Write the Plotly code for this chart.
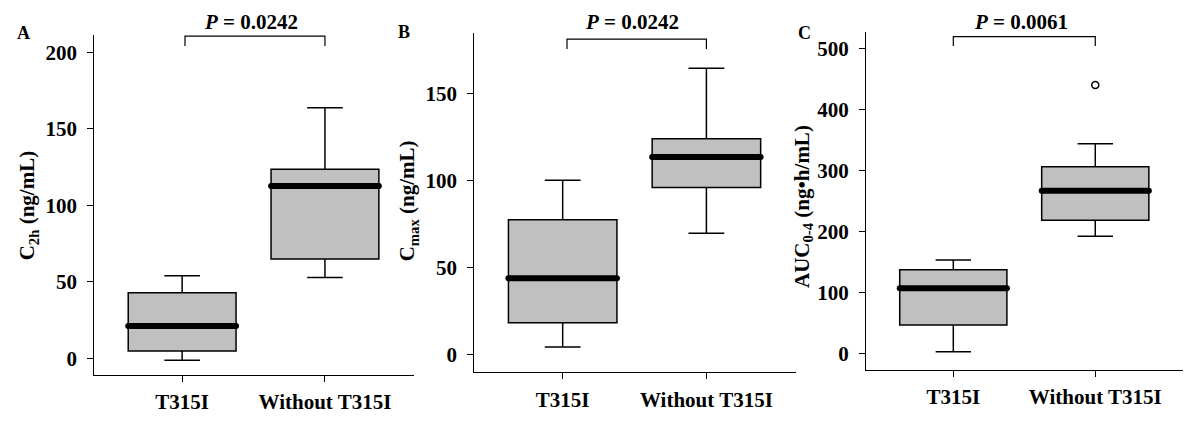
import plotly.graph_objects as go

# ---------------- data ----------------
groups = ["T315I", "Without T315I"]
group_pos = [0, 1]

# Panel A: C2h (ng/mL)
c2h_lower = [-1.3, 52.9]
c2h_q1 = [4.8, 64.9]
c2h_median = [21.1, 112.6]
c2h_q3 = [42.9, 123.5]
c2h_upper = [54.0, 163.8]
c2h_ticks = [0, 50, 100, 150, 200]

# Panel B: Cmax (ng/mL)
cmax_lower = [4.4, 69.7]
cmax_q1 = [18.4, 95.9]
cmax_median = [43.9, 113.5]
cmax_q3 = [77.5, 124.0]
cmax_upper = [100.1, 164.4]
cmax_ticks = [0, 50, 100, 150]

# Panel C: AUC0-4 (ng*h/mL)
auc_lower = [3.8, 192.5]
auc_q1 = [47.4, 218.7]
auc_median = [107.5, 267.1]
auc_q3 = [137.9, 306.4]
auc_upper = [153.7, 344.0]
auc_outlier_x = [1]
auc_outlier_y = [440]
auc_ticks = [0, 100, 200, 300, 400, 500]

p_values = ["0.0242", "0.0242", "0.0061"]
panel_letters = ["A", "B", "C"]
y_titles = ["C<sub>2h</sub> (ng/mL)", "C<sub>max</sub> (ng/mL)", "AUC<sub>0-4</sub> (ng•h/mL)"]

# ---------------- layout geometry (pixels) ----------------
W, H = 1200, 426
FONT = "Liberation Serif"
FS = 21

panels = [
    dict(lower=c2h_lower, q1=c2h_q1, med=c2h_median, q3=c2h_q3, upper=c2h_upper,
         ticks=c2h_ticks, yrange=[-10.9, 211.3], xpx=[94.3, 413.5], ypx=[375, 35],
         br_top=210.6, br_bot=204.1, br_x=[0.02, 1.0],
         title_px=(28.3, 206), letter_px=(23.5, 33.5)),
    dict(lower=cmax_lower, q1=cmax_q1, med=cmax_median, q3=cmax_q3, upper=cmax_upper,
         ticks=cmax_ticks, yrange=[-10.1, 184.8], xpx=[474.3, 795.5], ypx=[372.3, 32.7],
         br_top=181.1, br_bot=175.5, br_x=[0.03, 1.0],
         title_px=(408.3, 201), letter_px=(403.5, 32)),
    dict(lower=auc_lower, q1=auc_q1, med=auc_median, q3=auc_q3, upper=auc_upper,
         ticks=auc_ticks, yrange=[-26.2, 527.2], xpx=[866, 1183.3], ypx=[370, 31.7],
         br_top=519.0, br_bot=503.9, br_x=[0.0, 1.0],
         title_px=(803, 207), letter_px=(804, 33)),
]

XRANGE = [-0.615, 1.62]
BOX_W = 0.755

fig = go.Figure()
annotations = []

for i, p in enumerate(panels):
    n = "" if i == 0 else str(i + 1)
    xa, ya = "x" + n, "y" + n

    fig.add_trace(go.Box(
        x=group_pos, q1=p["q1"], median=p["med"], q3=p["q3"],
        lowerfence=p["lower"], upperfence=p["upper"],
        width=BOX_W, whiskerwidth=0.33,
        fillcolor="#c0c0c0", line=dict(color="black", width=1.5),
        boxpoints=False, xaxis=xa, yaxis=ya, showlegend=False, hoverinfo="skip",
    ))
    # thick median bars
    for gx, m in zip(group_pos, p["med"]):
        fig.add_trace(go.Scatter(
            x=[gx - BOX_W / 2, gx + BOX_W / 2], y=[m, m], mode="lines+markers",
            line=dict(color="black", width=6), marker=dict(color="black", size=6),
            xaxis=xa, yaxis=ya, showlegend=False, hoverinfo="skip", cliponaxis=False,
        ))
    # significance bracket
    bx0, bx1 = p["br_x"]
    fig.add_trace(go.Scatter(
        x=[bx0, bx0, bx1, bx1], y=[p["br_bot"], p["br_top"], p["br_top"], p["br_bot"]],
        mode="lines", line=dict(color="black", width=1.2),
        xaxis=xa, yaxis=ya, showlegend=False, hoverinfo="skip",
    ))

    xd = [p["xpx"][0] / W, p["xpx"][1] / W]
    yd = [(H - p["ypx"][0]) / H, (H - p["ypx"][1]) / H]
    fig.update_layout(**{
        "xaxis" + n: dict(
            domain=xd, range=XRANGE, anchor=ya, tickvals=group_pos, ticktext=groups,
            showline=True, linecolor="black", linewidth=1.3, ticks="outside",
            ticklen=6, tickcolor="black", tickwidth=1.3, showgrid=False, zeroline=False,
            tickfont=dict(family=FONT, size=FS, color="black", weight="bold"),
            ticklabelstandoff=2, fixedrange=True,
        ),
        "yaxis" + n: dict(
            domain=yd, range=p["yrange"], anchor=xa, tickvals=p["ticks"],
            showline=True, linecolor="black", linewidth=1.3, ticks="outside",
            ticklen=6, tickcolor="black", tickwidth=1.3, showgrid=False, zeroline=False,
            tickfont=dict(family=FONT, size=FS, color="black", weight="bold"),
            ticklabelstandoff=6, fixedrange=True,
        ),
    })

    # P value text
    annotations.append(dict(
        x=0.48, xref=xa, y=(H - 21.7) / H, yref="paper",
        text="<i>P</i> = " + p_values[i], showarrow=False,
        font=dict(family=FONT, size=FS, color="black", weight="bold"),
        xanchor="center", yanchor="middle",
    ))
    # y title
    tx, ty = p["title_px"]
    annotations.append(dict(
        x=tx / W, y=(H - ty) / H, xref="paper", yref="paper", text=y_titles[i],
        textangle=-90, showarrow=False, xanchor="center", yanchor="middle",
        font=dict(family=FONT, size=FS, color="black", weight="bold"),
    ))
    # panel letter
    lx, ly = p["letter_px"]
    annotations.append(dict(
        x=lx / W, y=(H - ly) / H, xref="paper", yref="paper", text=panel_letters[i],
        showarrow=False, xanchor="center", yanchor="middle",
        font=dict(family=FONT, size=18, color="black", weight="bold"),
    ))

# outlier in panel C
fig.add_trace(go.Scatter(
    x=auc_outlier_x, y=auc_outlier_y, mode="markers",
    marker=dict(symbol="circle-open", size=7, color="black", line=dict(width=1.5)),
    xaxis="x3", yaxis="y3", showlegend=False, hoverinfo="skip",
))

fig.update_layout(
    width=W, height=H, margin=dict(l=0, r=0, t=0, b=0),
    paper_bgcolor="white", plot_bgcolor="white",
    annotations=annotations, showlegend=False,
)

fig.write_html("out.html", config={"displayModeBar": False},
               post_script="document.body.style.margin='0';")
